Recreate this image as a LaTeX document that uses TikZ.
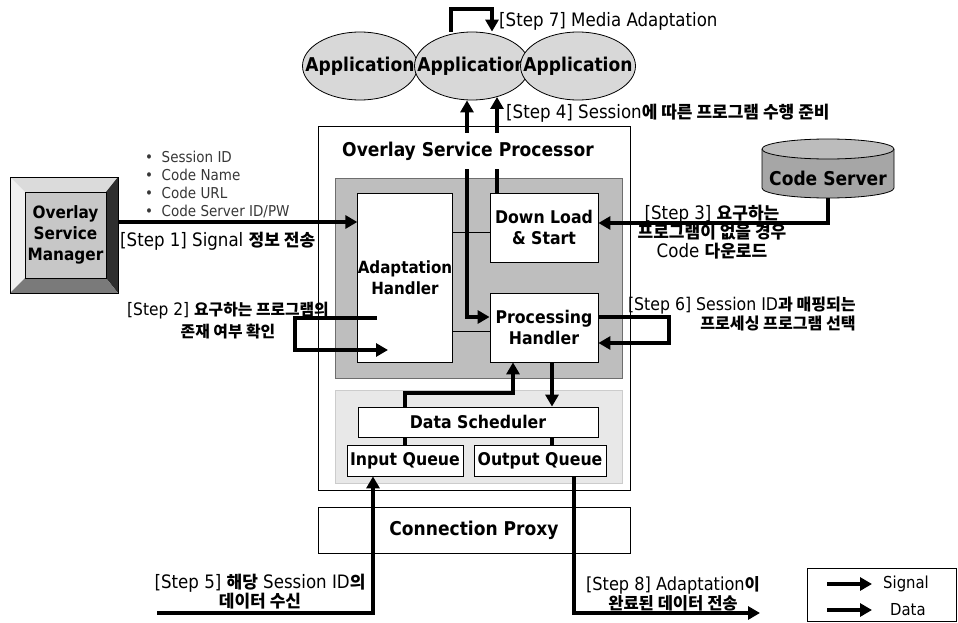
\documentclass[tikz,border=0pt]{standalone}
\usepackage{fontspec}
\setmainfont{DejaVu Sans Condensed}
\newfontfamily\kofont{Noto Sans CJK KR}[Scale=0.92]
\newcommand{\ko}[1]{{\kofont\bfseries #1}}
\usetikzlibrary{arrows.meta, positioning, shapes.geometric}
\definecolor{appgray}{RGB}{216,216,216}
\definecolor{panelgray}{RGB}{190,190,190}
\definecolor{paneledge}{RGB}{110,110,110}
\definecolor{queuepanel}{RGB}{232,232,232}
\definecolor{servergray}{RGB}{166,166,166}
\definecolor{bulletgray}{RGB}{55,55,55}

\begin{document}
\begin{tikzpicture}[x=1pt, y=-1pt,
  every node/.style={inner sep=0pt},
  >={Triangle[length=12pt, width=13pt]},
  app/.style={ellipse, draw, line width=0.8pt, fill=appgray, minimum width=115pt, minimum height=68pt, font=\bfseries\fontsize{19}{20}\selectfont},
  box/.style={draw, line width=0.8pt, fill=white, align=center, font=\bfseries\fontsize{17.5}{21}\selectfont},
  steplabel/.style={font=\fontsize{18.5}{19}\selectfont, align=center},
  flow/.style={line width=4pt, ->},
  wire/.style={line width=4pt},
  thinline/.style={line width=0.8pt}]
  \useasboundingbox (0,0) rectangle (958,623);

  % Applications
  \node[app] (app1) at (360,66) {\makebox[0pt]{Application}};
  \node[app] (app2) at (472,66) {\makebox[0pt]{Application}};
  \node[app] (app3) at (578,66) {\makebox[0pt]{Application}};

  % Overlay Service Processor and its panels
  \node[draw, line width=1pt, minimum width=312pt, minimum height=363pt] (osp) at (474,308.5) {};
  \node[draw=paneledge, line width=0.6pt, fill=panelgray, minimum width=287pt, minimum height=200pt] (hpanel) at (478.5,278) {};
  \node[draw=gray!40, line width=0.6pt, fill=queuepanel, minimum width=287pt, minimum height=93pt] (qpanel) at (478.5,436.5) {};

  \node[box, minimum width=94pt, minimum height=169pt, font=\bfseries\fontsize{16.8}{21}\selectfont] (adapt) at (405,277.5) {Adaptation\\Handler};
  \node[box, minimum width=108pt, minimum height=69pt] (dl) at (544,227.5) {Down Load\\\& Start};
  \node[box, minimum width=108pt, minimum height=69pt] (proc) at (544,327.5) {Processing\\Handler};
  \node[box, minimum width=240pt, minimum height=30pt] (ds) at (478,422) {Data Scheduler};
  \node[box, minimum width=116pt, minimum height=31pt] (iq) at (405,460.5) {Input Queue};
  \node[box, minimum width=132pt, minimum height=31pt] (oq) at (540,460.5) {Output Queue};
  \draw[thinline] (adapt.east |- 0,232) -- (dl.west |- 0,232);
  \draw[thinline] (adapt.east |- 0,331) -- (proc.west |- 0,331);

  % Connection Proxy
  \node[box, line width=1pt, minimum width=312pt, minimum height=46pt, font=\bfseries\fontsize{19}{20}\selectfont] (cp) at (474,530) {Connection Proxy};

  % Overlay Service Manager (bevelled button)
  \fill[black!14] (10,177) -- (118,177) -- (106,192) -- (25,192) -- cycle;
  \fill[black!6] (10,177) -- (25,192) -- (25,278) -- (10,293) -- cycle;
  \fill[black!82] (118,177) -- (118,293) -- (106,278) -- (106,192) -- cycle;
  \fill[black!52] (10,293) -- (118,293) -- (106,278) -- (25,278) -- cycle;
  \node[draw, line width=0.5pt, fill=black!22, minimum width=81pt, minimum height=86pt, align=center, font=\bfseries\fontsize{17}{21}\selectfont] (osmface) at (65.5,235) {Overlay\\Service\\Manager};
  \node[draw, line width=0.8pt, minimum width=108pt, minimum height=116pt] (osm) at (64,235) {};
  \node[anchor=west, align=left, text=bulletgray, font=\fontsize{15}{18}\selectfont] (params) at (145,184)
    {\textbullet\ \ Session ID\\\textbullet\ \ Code Name\\\textbullet\ \ Code URL\\\textbullet\ \ Code Server ID/PW};

  % Code Server
  \draw[line width=0.8pt, fill=servergray] (762,149) -- (762,188) arc[start angle=180, end angle=0, x radius=66, y radius=10] -- (894,149);
  \draw[line width=0.8pt, fill=servergray!75] (828,149) ellipse[x radius=66, y radius=10];
  \node[minimum width=132pt, minimum height=39pt, font=\bfseries\fontsize{19}{20}\selectfont] (cs) at (828,178.5) {Code Server};

  % Step 1
  \draw[flow] (osm.east |- 0,222) -- (adapt.west |- 0,222);
  \node[steplabel, anchor=west] (s1) at (120,241) {[Step 1] Signal \ko{정보 전송}};
  % Step 2
  \coordinate (s2out) at (377,318);
  \coordinate (s2in) at (388,350);
  \draw[flow] (s2out) -- (295,318) -- (295,350) -- (s2in);
  \node[steplabel, font=\fontsize{17.2}{19}\selectfont] (s2) at (228,321) {[Step 2] \ko{요구하는 프로그램의}\\[3pt]\ko{존재 여부 확인}};
  % Step 3
  \draw[flow] (cs.south) -- (cs.south |- 0,223) -- (dl.east |- 0,223);
  \node[steplabel] (s3) at (712,232) {[Step 3] \ko{요구하는}\\\ko{프로그램이 없을 경우}\\Code \ko{다운로드}};
  % Step 4
  \coordinate (app2b) at (497,97);
  \draw[flow, <->] (proc.west |- 0,317) -- (467,317) -- (app2.south -| 467,0);
  \draw[flow] (dl.north -| 497,0) -- (app2b);
  \node[steplabel, anchor=west] (s4) at (506,113) {[Step 4] Session\ko{에 따른 프로그램 수행 준비}};
  % Step 6
  \draw[flow] (proc.east |- 0,317) -- (669,317) -- (669,343) -- (proc.east |- 0,343);
  \node[steplabel, anchor=east, align=right, font=\fontsize{17.5}{19}\selectfont] (s6) at (856,314) {[Step 6] Session ID\ko{과 매핑되는}\\\ko{프로세싱 프로그램 선택}};
  % Step 7
  \draw[flow] (app2.north -| 451,0) -- (451,9) -- (492,9) -- (app2.north -| 492,0);
  \node[steplabel, anchor=west] (s7) at (499,21) {[Step 7] Media Adaptation};

  % Data path through the queues
  \draw[flow] (proc.south -| 552,0) -- (ds.north -| 552,0);
  \draw[wire] (ds.south -| 552,0) -- (oq.north -| 552,0);
  \draw[wire] (iq.north -| 405,0) -- (ds.south -| 405,0);
  \draw[flow] (ds.north -| 405,0) -- (405,393) -- (513,393) -- (proc.south -| 513,0);
  % Step 5
  \coordinate (s5in) at (157,613);
  \draw[flow] (s5in) -- (373,613) -- (iq.south -| 373,0);
  \node[steplabel] (s5) at (260,592) {[Step 5] \ko{해당} Session ID\ko{의}\\\ko{데이터 수신}};
  % Step 8
  \coordinate (s8out) at (760,613);
  \draw[flow] (oq.south -| 574,0) -- (574,613) -- (s8out);
  \node[steplabel, font=\fontsize{18}{19}\selectfont] (s8) at (673,594) {[Step 8] Adaptation\ko{이}\\\ko{완료된 데이터 전송}};

  % title sits over the two Step 4 arrows
  \node[fill=white, minimum height=35pt, inner xsep=2pt, font=\bfseries\fontsize{19}{20}\selectfont] (osptitle) at (468,151) {Overlay Service Processor};

  % Legend
  \node[draw, line width=1pt, minimum width=149pt, minimum height=53pt] (legend) at (881.5,594.5) {};
  \coordinate (sigA) at (827,584);
  \coordinate (datA) at (827,610);
  \draw[flow] (sigA) -- (872,584);
  \draw[flow] (datA) -- (872,610);
  \node[anchor=west, font=\fontsize{16.5}{18}\selectfont] (lsig) at (883,584) {Signal};
  \node[anchor=west, font=\fontsize{16.5}{18}\selectfont] (ldat) at (890,610) {Data};
\end{tikzpicture}
\end{document}
